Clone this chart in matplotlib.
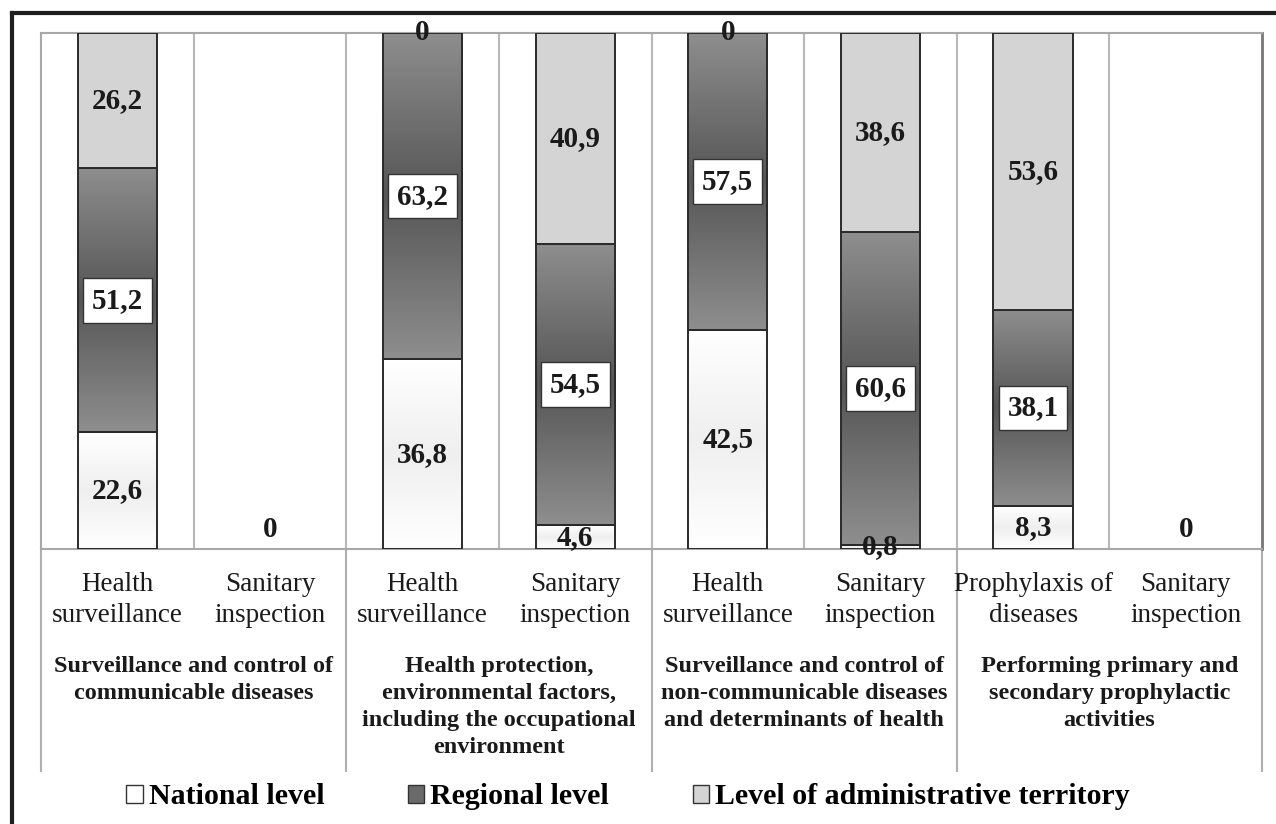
import numpy as np
import matplotlib
matplotlib.use('Agg')
import matplotlib.pyplot as plt
from matplotlib.colors import LinearSegmentedColormap
from matplotlib.patches import Patch
from matplotlib.lines import Line2D

categories = ['Health\nsurveillance', 'Sanitary\ninspection',
              'Health\nsurveillance', 'Sanitary\ninspection',
              'Health\nsurveillance', 'Sanitary\ninspection',
              'Prophylaxis of\ndiseases', 'Sanitary\ninspection']
groups = ['Surveillance and control of\ncommunicable diseases',
          'Health protection,\nenvironmental factors,\nincluding the occupational\nenvironment',
          'Surveillance and control of\nnon-communicable diseases\nand determinants of health',
          'Performing primary and\nsecondary prophylactic\nactivities']
national = [22.6, 0, 36.8, 4.6, 42.5, 0.8, 8.3, 0]
regional = [51.2, 0, 63.2, 54.5, 57.5, 60.6, 38.1, 0]
admin = [26.2, 0, 0, 40.9, 0, 38.6, 53.6, 0]
series_names = ['National level', 'Regional level', 'Level of administrative territory']

plt.rcParams['font.family'] = ['Liberation Serif', 'DejaVu Serif']

W, H = 1276, 824
fig = plt.figure(figsize=(W / 100, H / 100), dpi=100)

# plot area in pixels
px0, px1, py0, py1 = 41, 1262, 33, 549
ax = fig.add_axes([px0 / W, 1 - py1 / H, (px1 - px0) / W, (py1 - py0) / H])

x = np.arange(len(categories)) + 0.5
bw = 0.52
nat = np.array(national)
reg = np.array(regional)
adm = np.array(admin)

edge = '#2a2a2a'
b_nat = ax.bar(x, nat, bw, color='none', edgecolor=edge, linewidth=1.4, zorder=3)
b_reg = ax.bar(x, reg, bw, bottom=nat, color='none', edgecolor=edge, linewidth=1.4, zorder=3)
b_adm = ax.bar(x, adm, bw, bottom=nat + reg, color='#d4d4d4', edgecolor=edge, linewidth=1.4, zorder=3)
for bars in (b_nat, b_reg, b_adm):
    for r in bars:
        if r.get_height() == 0:
            r.set_linewidth(0)

# gradient fills
grad = np.abs(np.linspace(-1, 1, 200))[:, None]
cm_reg = LinearSegmentedColormap.from_list('reg', ['#565656', '#8e8e8e'])
cm_nat = LinearSegmentedColormap.from_list('nat', ['#efefef', '#ffffff'])
for bars, cm in ((b_reg, cm_reg), (b_nat, cm_nat)):
    for r in bars:
        if r.get_height() > 0:
            ax.imshow(grad, extent=[r.get_x(), r.get_x() + r.get_width(), r.get_y(), r.get_y() + r.get_height()],
                      cmap=cm, vmin=0, vmax=1, aspect='auto', zorder=2, interpolation='bilinear')

def fmt(v):
    return '0' if v == 0 else f'{v:.1f}'.replace('.', ',')

lab_kw = dict(ha='center', va='center', fontsize=21, fontweight='bold', color='#1a1a1a', zorder=6)
for i in range(len(x)):
    if nat[i] + reg[i] + adm[i] == 0:
        ax.text(x[i], 3.7, '0', **lab_kw)
        continue
    ax.text(x[i], nat[i] / 2, fmt(nat[i]), **lab_kw)
    ax.text(x[i], nat[i] + reg[i] / 2, fmt(reg[i]),
            bbox=dict(boxstyle='square,pad=0.3', facecolor='white', edgecolor='#333333', linewidth=1), **lab_kw)
    ax.text(x[i], nat[i] + reg[i] + adm[i] / 2, fmt(adm[i]), **lab_kw)

ax.set_xlim(0, len(categories))
ax.set_ylim(0, 100)
ax.set_xticks([])
ax.set_yticks([])
for k in range(1, len(categories)):
    ax.axvline(k, color='#b8b8b8', linewidth=1.5, zorder=1)
for s in ['top', 'left', 'bottom']:
    ax.spines[s].set_color('#a8a8a8')
    ax.spines[s].set_linewidth(1.5)
ax.spines['right'].set_color('#777777')
ax.spines['right'].set_linewidth(2)

# group separators extending below
low = -(771 - py1) / (py1 - py0)
for k in range(0, len(categories) + 1, 2):
    ax.plot([k, k], [0, low], color='#b0b0b0', linewidth=1.5,
            transform=ax.get_xaxis_transform(), clip_on=False)

# category and group labels
for i, c in enumerate(categories):
    ax.text(x[i], -(600 - py1) / (py1 - py0), c, transform=ax.get_xaxis_transform(),
            ha='center', va='center', fontsize=19.5, linespacing=1.28, color='#1a1a1a')
for g, name in enumerate(groups):
    ax.text(2 * g + 1, -(656 - py1) / (py1 - py0), name, transform=ax.get_xaxis_transform(),
            ha='center', va='top', fontsize=17.5, fontweight='bold', linespacing=1.38, color='#1a1a1a')

# legend
handles = [Patch(facecolor=c, edgecolor='#333333', linewidth=1)
           for c in ['#ffffff', '#6a6a6a', '#d4d4d4']]
fig.legend(handles, series_names, loc='center', bbox_to_anchor=(628 / W, 1 - 797 / H), ncol=3,
           frameon=False, prop=dict(size=21.5, weight='bold'), handlelength=0.55, handleheight=0.55,
           handletextpad=0.2, columnspacing=2.8)

# outer frame (left and top edges visible)
fig.add_artist(Line2D([12 / W, 12 / W], [0, 1 - 13 / H], color='#1e1e1e', linewidth=3))
fig.add_artist(Line2D([12 / W, 1], [1 - 13 / H, 1 - 13 / H], color='#1e1e1e', linewidth=3))

fig.savefig('out.png', dpi=100)
